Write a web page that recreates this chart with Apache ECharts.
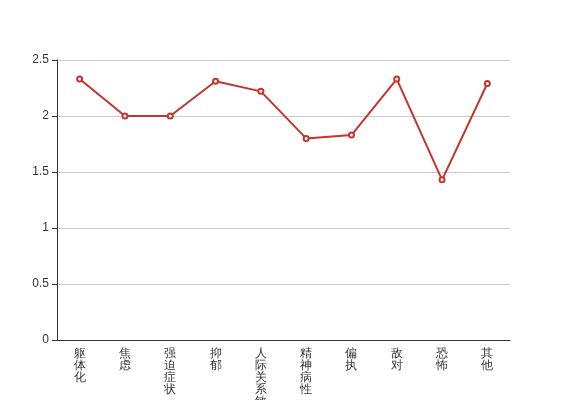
<!DOCTYPE html>
<html><head><meta charset="utf-8">
<script src="https://cdn.jsdelivr.net/npm/echarts@6/dist/echarts.min.js"></script>
<style>html,body{margin:0;padding:0;background:#fff}#c{width:567px;height:400px}</style>
</head><body><div id="c"></div>
<script>
var categories = ['躯体化','焦虑','强迫症状','抑郁','人际关系敏感','精神病性','偏执','敌对','恐怖','其他'];
var values = [2.33, 2.0, 2.0, 2.31, 2.22, 1.80, 1.83, 2.33, 1.43, 2.29];
var chart = echarts.init(document.getElementById('c'));
chart.setOption({
  animation: false,
  textStyle: {fontFamily: 'sans-serif'},
  grid: {left: 57, right: 57, top: 60, bottom: 60, containLabel: false, outerBoundsMode: 'none'},
  xAxis: {
    type: 'category', data: categories, boundaryGap: true,
    axisLine: {lineStyle: {color: '#333'}},
    axisTick: {lineStyle: {color: '#333'}},
    axisLabel: {color: '#333', fontSize: 12, lineHeight: 12, margin: 8, interval: 0,
      formatter: function (v) { return v.split('').join('\n'); }}
  },
  yAxis: {
    type: 'value', min: 0, max: 2.5, interval: 0.5,
    axisLine: {show: true, lineStyle: {color: '#333'}},
    axisTick: {show: true, lineStyle: {color: '#333'}},
    axisLabel: {color: '#333', fontSize: 12},
    splitLine: {lineStyle: {color: '#ccc'}}
  },
  series: [{
    type: 'line', data: values,
    symbol: 'emptyCircle', symbolSize: 5,
    itemStyle: {color: '#c23531', borderWidth: 1},
    lineStyle: {color: '#c23531', width: 2}
  }]
});
</script></body></html>
